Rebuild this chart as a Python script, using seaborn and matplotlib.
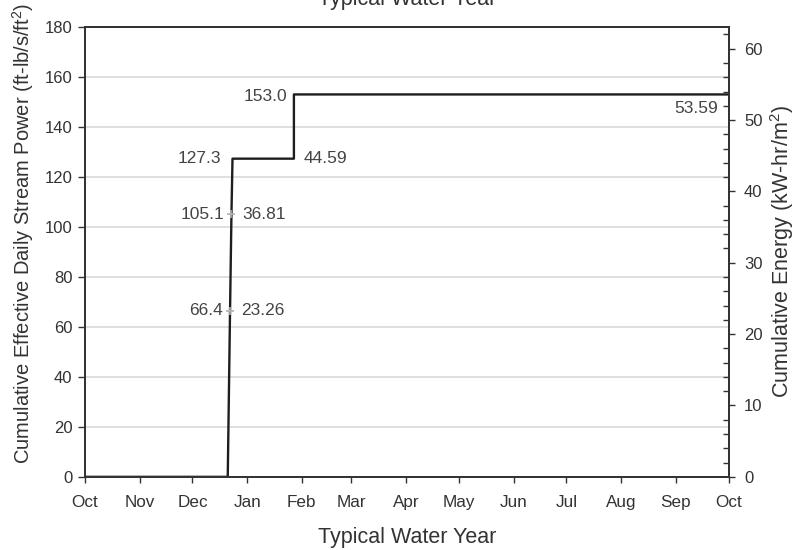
import matplotlib
matplotlib.use("Agg")
import matplotlib.pyplot as plt
import seaborn as sns
import pandas as pd
import numpy as np

# Cumulative effective stream power over a typical water year (day 0 = Oct 1)
days = [0, 81.0, 82.3, 83.1, 83.7, 118.5, 118.5, 365]
power = [0, 0, 66.4, 105.1, 127.3, 127.3, 153.0, 153.0]

# Labelled points on the rising limb
label_days = [82.3, 83.1]
label_power = [66.4, 105.1]
label_power_txt = ["66.4", "105.1"]
label_energy_txt = ["23.26", "36.81"]

corner_power_txt = ["127.3", "153.0"]
corner_energy_txt = ["44.59", "53.59"]

month_days = [0, 31, 61, 92, 123, 151, 182, 212, 243, 273, 304, 335, 365]
month_names = ["Oct", "Nov", "Dec", "Jan", "Feb", "Mar", "Apr", "May",
               "Jun", "Jul", "Aug", "Sep", "Oct"]

# energy (kW-hr/m^2) per unit stream power (ft-lb/s/ft^2)
energy_per_power = 53.59 / 153.0

sns.set_theme(style="white")
plt.rcParams["font.family"] = ["Liberation Sans", "DejaVu Sans"]
plt.rcParams["mathtext.default"] = "regular"

txt = "#333333"
fig = plt.figure(figsize=(7.93, 5.5), dpi=100)
ax = fig.add_axes([0.107, 0.133, 0.812, 0.818])

df = pd.DataFrame({"day": days, "power": power})
sns.lineplot(data=df, x="day", y="power", ax=ax, color="#1e1e1e",
             linewidth=1.7, estimator=None, sort=False)
pts = pd.DataFrame({"day": label_days, "power": label_power})
sns.scatterplot(data=pts, x="day", y="power", ax=ax, marker="+",
                color="#b0b0b0", s=30, linewidth=1.2, zorder=4)

ax.set_xlim(0, 365)
ax.set_ylim(0, 180)
ax.set_yticks(np.arange(0, 181, 20))
ax.set_xticks(month_days)
ax.set_xticklabels(month_names)
ax.yaxis.grid(True, color="#d9d9d9", linewidth=1.2)
ax.xaxis.grid(False)
ax.set_axisbelow(True)
for s in ax.spines.values():
    s.set_color("#333333")
    s.set_linewidth(1.3)
ax.tick_params(axis="y", direction="out", length=5, width=1,
               color="#333333", labelsize=12, labelcolor=txt, pad=4,
               left=True)
ax.tick_params(axis="x", direction="out", length=4.5, width=1,
               color="#333333", labelsize=12.3, labelcolor=txt, pad=8.5,
               bottom=True)

ax.set_xlabel("Typical Water Year", fontsize=15.5, color=txt, labelpad=12)
ax.set_ylabel("Cumulative Effective Daily Stream Power (ft-lb/s/ft$^{2}$)",
              fontsize=14.5, color=txt)
ax.yaxis.set_label_coords(-0.076, 0.54)

ax2 = ax.twinx()
ax2.set_ylim(0, 180 * energy_per_power)
ax2.set_yticks(np.arange(0, 61, 10))
ax2.set_yticks(np.arange(0, 63, 2), minor=True)
ax2.tick_params(axis="y", which="major", direction="out", length=4.5, width=1,
                color="#333333", labelsize=12, labelcolor=txt, pad=6.5,
                right=True)
ax2.tick_params(axis="y", which="minor", direction="in", length=4, width=1,
                color="#333333", right=True)
ax2.grid(False)
for s in ax2.spines.values():
    s.set_color("#333333")
    s.set_linewidth(1.3)
ax2.set_ylabel("Cumulative Energy (kW-hr/m$^{2}$)", fontsize=15.5,
               color=txt, labelpad=4)

ann = dict(fontsize=12.5, color="#444444", va="center",
           textcoords="offset points")
for d, p, lt, rt in zip(label_days, label_power, label_power_txt,
                        label_energy_txt):
    ax.annotate(lt, xy=(d, p), xytext=(-5, 0), ha="right", **ann)
    ax.annotate(rt, xy=(d, p), xytext=(8, 0), ha="left", **ann)

# step corners
ax.annotate(corner_power_txt[0], xy=(days[4], power[4]), xytext=(-8, 0),
            ha="right", **ann)
ax.annotate(corner_energy_txt[0], xy=(days[5], power[5]), xytext=(7, 0),
            ha="left", **ann)
ax.annotate(corner_power_txt[1], xy=(days[6], power[6]), xytext=(-5, -1.5),
            ha="right", **ann)
ax.annotate(corner_energy_txt[1], xy=(days[7], power[7]), xytext=(-8, -10),
            ha="right", **ann)

fig.text(0.513, 1.0, "Typical Water Year", fontsize=15.5, color=txt,
         ha="center", va="center")

fig.savefig("out.png", dpi=100)
